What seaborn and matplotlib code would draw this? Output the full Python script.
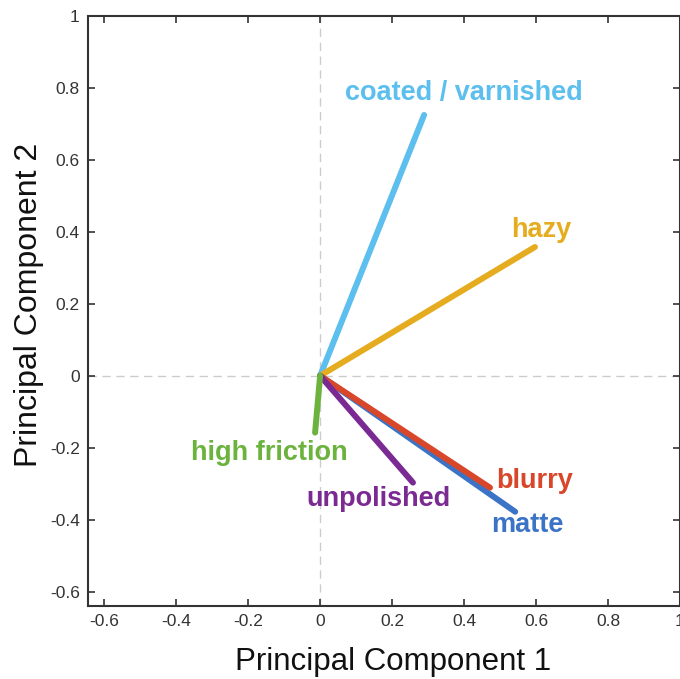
import pandas as pd
import seaborn as sns
import matplotlib.pyplot as plt

# PCA loading vectors (end points, all start at the origin)
attributes = ["coated / varnished", "hazy", "matte", "blurry", "unpolished", "high friction"]
pc1 = [0.289, 0.597, 0.542, 0.472, 0.258, -0.014]
pc2 = [0.725, 0.358, -0.378, -0.311, -0.297, -0.158]
colors = ["#5cbfee", "#e5ac20", "#3b73c6", "#d9472a", "#7a2a92", "#6cb33e"]

# label anchor points (data coords)
label_x = [0.40, 0.614, 0.575, 0.597, 0.161, -0.142]
label_y = [0.786, 0.405, -0.414, -0.292, -0.342, -0.214]

sns.set_theme(style="white")
plt.rcParams["font.family"] = ["Liberation Sans", "DejaVu Sans"]

rows = []
for name, x, y in zip(attributes, pc1, pc2):
    rows.append({"attribute": name, "step": 0, "PC1": 0.0, "PC2": 0.0})
    rows.append({"attribute": name, "step": 1, "PC1": x, "PC2": y})
df = pd.DataFrame(rows)

fig = plt.figure(figsize=(6.8, 6.79), dpi=100)
ax = fig.add_axes([88 / 680, 1 - 606 / 679, 592 / 680, 590 / 679])

ax.axhline(0, color="#cccccc", lw=1, ls=(0, (6, 4)), zorder=0)
ax.axvline(0, color="#cccccc", lw=1, ls=(0, (6, 4)), zorder=0)

sns.lineplot(data=df, x="PC1", y="PC2", hue="attribute", units="attribute",
             estimator=None, sort=False, palette=dict(zip(attributes, colors)),
             linewidth=4.3, legend=False, ax=ax)

for name, lx, ly, c in zip(attributes, label_x, label_y, colors):
    ax.text(lx, ly, name, color=c, fontsize=19.5, fontweight="bold",
            ha="center", va="center")

ticks = [-0.6, -0.4, -0.2, 0, 0.2, 0.4, 0.6, 0.8, 1]
tick_labels = ["-0.6", "-0.4", "-0.2", "0", "0.2", "0.4", "0.6", "0.8", "1"]
ax.set_xlim(-0.645, 1.0)
ax.set_ylim(-0.64, 1.0)
ax.set_xticks(ticks)
ax.set_yticks(ticks)
ax.set_xticklabels(tick_labels)
ax.set_yticklabels(tick_labels)
ax.tick_params(direction="in", length=5, width=1.2, color="#333333",
               labelsize=12.5, labelcolor="#333333", top=True, right=True,
               bottom=True, left=True, pad=6)
for s in ax.spines.values():
    s.set_color("#333333")
    s.set_linewidth(1.5)

ax.set_xlabel("Principal Component 1", fontsize=22.5, color="#111111", labelpad=13)
ax.set_ylabel("Principal Component 2", fontsize=23, color="#111111", labelpad=4)
ax.xaxis.label.set_x(0.515)
ax.yaxis.label.set_y(0.51)

fig.savefig("out.png", dpi=100)
